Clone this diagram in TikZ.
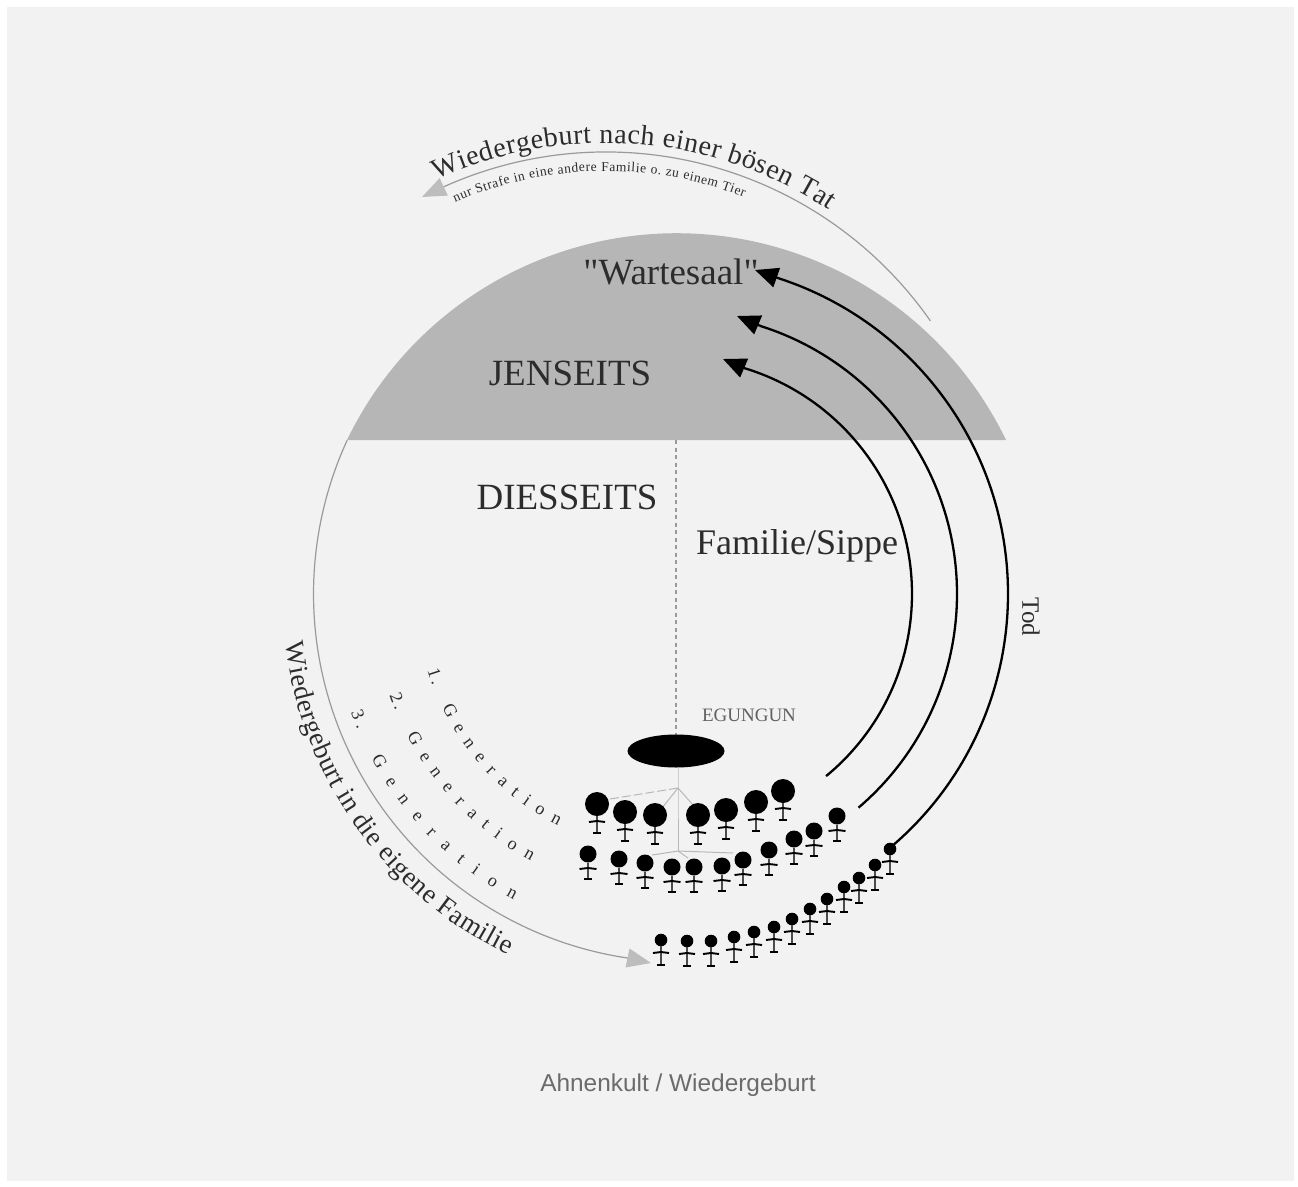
\documentclass[tikz,border=0pt]{standalone}
\usepackage{fontspec}
\setmainfont{Liberation Serif}
\setsansfont{Liberation Sans}
\newfontfamily\plainserif{Liberation Serif}
\usetikzlibrary{arrows.meta,decorations.text,shapes.geometric}
\definecolor{paper}{HTML}{F2F2F2}
\definecolor{jenseits}{HTML}{B6B6B6}
\definecolor{ink}{HTML}{2C2C2C}
\definecolor{thinline}{HTML}{9A9A9A}
\definecolor{headgray}{HTML}{BDBDBD}
\newcommand{\fsz}[1]{\fontsize{#1}{#1}\selectfont}
\tikzset{
  x=1pt,y=1pt,
  label text/.style={text=ink,inner sep=0pt,font=\fsz{#1}},
  death/.style={line width=2.3pt,black,-{Triangle[length=23pt,width=20pt]}},
  rebirth/.style={line width=1.2pt,thinline,-{Triangle[length=24pt,width=19pt,fill=headgray,color=headgray]}},
  kin/.style={line width=1pt,thinline!70},
  curved/.style n args={2}{decorate,decoration={text along path,text align={fit to path},text={|\fsz{#1}\color{ink}|#2}}},
  pics/person/.style n args={4}{code={
    \fill[black] (0,0) circle (#1);
    \draw[line width=2.1pt,black!70] (0,-#1) -- (0,-#4);
    \draw[line width=1.9pt,black] (-#3,-#2-1) -- (0,-#2) -- (#3,-#2-1);
    \draw[line width=1.9pt,black] (-4,-#4) -- (4,-#4);
  }}
}
\begin{document}
\begin{tikzpicture}
\useasboundingbox (0,0) rectangle (1298,-1186);
\fill[white] (0,0) rectangle (1298,-1186);
\fill[paper] (7,-7) rectangle (1294,-1181);
% centres
\coordinate (big) at (681.5,-594);
\coordinate (cen) at (676,-594);
\coordinate (top) at (606,-548);
\coordinate (low) at (678,-598);
\coordinate (tipA) at (723,-359);
\coordinate (tipB) at (737,-316);
\coordinate (tipC) at (755,-270);
\coordinate (tipW) at (422,-197);
\coordinate (tipF) at (651,-963);
% Jenseits segment
\fill[jenseits] (347,-440) arc (154.2:25.8:366) -- cycle;
% centre dashed axis
\coordinate (axisT) at (676,-440);
\coordinate (axisB) at (676,-735);
\draw[line width=1.2pt,thinline,dash pattern=on 4pt off 3.5pt] (axisT) -- (axisB);
% rebirth arcs
\draw[rebirth] (top) ++(35:396) arc (35:114:396) -- (tipW);
\draw[rebirth] (big) ++(155.3:368) arc (155.3:261.6:368) -- (tipF);
% death arrows
\draw[death] (cen) ++(-50.5:236) arc (-50.5:73.2:236) -- (tipA);
\draw[death] (cen) ++(-49.5:281) arc (-49.5:72.3:281) -- (tipB);
\draw[death] (cen) ++(-49.9:332) arc (-49.9:71.7:332) -- (tipC);
% curved labels
\path[curved={28}{Wiedergeburt nach einer bösen Tat}] (top) ++(114.7:405) arc (114.7:56.6:405);
\path[curved={13.5}{nur Strafe in eine andere Familie o. zu einem Tier}] (top) ++(113.6:377) arc (113.6:68.6:377);
\path[curved={27}{Wiedergeburt in die eigene Familie}] (low) ++(186.5:395) arc (186.5:244.5:395);
\path[curved={18}{1.\ \ \ G e n e r a t i o n}] (cen) ++(197:260) arc (197:243:260);
\path[curved={18}{2.\ \ \ G e n e r a t i o n}] (cen) ++(199.5:304) arc (199.5:241.5:304);
\path[curved={18}{3.\ \ \ G e n e r a t i o n}] (cen) ++(200:346) arc (200:242:346);
% labels
\node[label text=37] (wartesaal) at (671,-272) {\plainserif "Wartesaal"};
\node[label text=37] (jenseitsT) at (570,-373) {JENSEITS};
\node[label text=37] (diesseits) at (567,-497) {DIESSEITS};
\node[label text=36] (familie) at (797,-546) {Familie/Sippe};
\node[label text=25,rotate=-90] (tod) at (1031,-617) {Tod};
\node[label text=19,text=ink!75] (egungun) at (749,-715) {EGUNGUN};
\node[label text=25,text=ink!70,font=\fsz{24.4}\sffamily] (caption) at (678,-1085) {Ahnenkult / Wiedergeburt};
% ancestor
\node[ellipse,fill=black,minimum width=97pt,minimum height=33pt,inner sep=0pt] (ahnen) at (676,-751) {};
% family lines
\coordinate (j1) at (678,-788);
\coordinate (j2) at (678,-851);
\coordinate (b1) at (610,-799);
\coordinate (b2) at (662,-808);
\coordinate (b3) at (693,-805);
\coordinate (b4) at (652,-855);
\coordinate (b5) at (688,-858);
\coordinate (b6) at (733,-853);
\draw[kin] (ahnen.south -| j1) -- (j1) -- (j2);
\draw[kin,dash pattern=on 9pt off 3pt] (j1) -- (b1);
\draw[kin] (j1) -- (b2);
\draw[kin] (j1) -- (b3);
\draw[kin] (j2) -- (b4);
\draw[kin] (j2) -- (b5);
\draw[kin] (j2) -- (b6);
% generations
\foreach \x/\y in {597/804,625/812,655/815,698/815,726/810,756/802,783/791}
  \pic at (\x,-\y) {person={12}{17}{8}{29}};
\foreach \x/\y in {588/854,619/859,645/863,672/867,694/867,722/866,743/860,769/850,794/839,814/831,837/816}
  \pic at (\x,-\y) {person={8.5}{14}{8.5}{25}};
\foreach \x/\y in {661/940,687/941,711/941,734/937,754/932,774/927,792/919,810/909,827/899,844/887,859/878,875/865,890/849}
  \pic at (\x,-\y) {person={6.3}{12}{8}{25}};
\end{tikzpicture}
\end{document}
